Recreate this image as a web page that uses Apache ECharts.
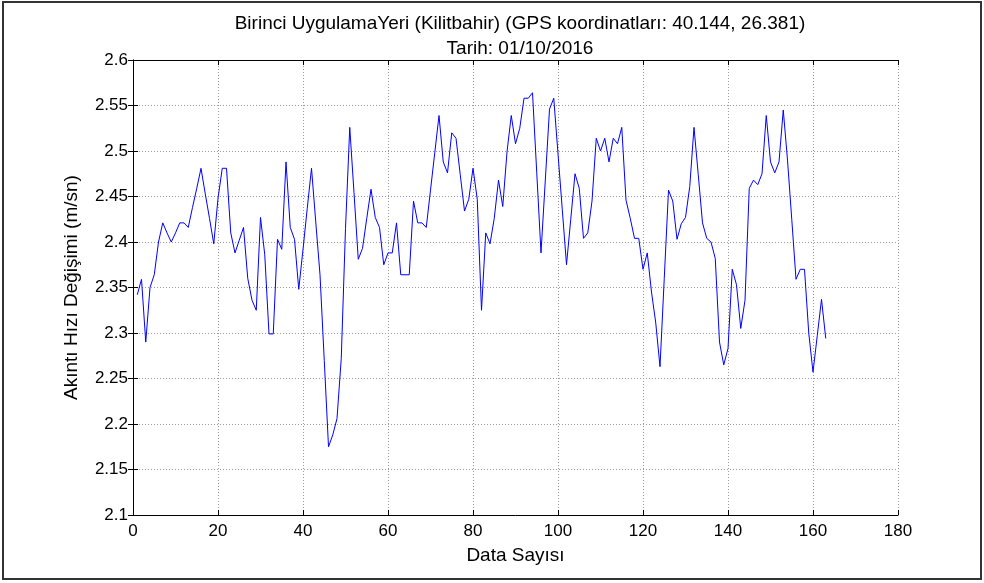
<!DOCTYPE html>
<html>
<head>
<meta charset="utf-8">
<script src="https://cdn.jsdelivr.net/npm/echarts@6/dist/echarts.min.js"></script>
<style>
  html, body { margin: 0; padding: 0; background: #fff; }
  #chart { width: 984px; height: 583px; }
</style>
</head>
<body>
<div id="chart"></div>
<script>
// values, x = 1..163
var xStart = 1;
var velocity = [
  2.342, 2.359, 2.29, 2.35, 2.364, 2.40, 2.421, 2.41, 2.40, 2.41,
  2.421, 2.421, 2.416, 2.438, 2.459, 2.481, 2.453, 2.426, 2.398, 2.448,
  2.481, 2.481, 2.41, 2.388, 2.402, 2.416, 2.36, 2.336, 2.325, 2.427,
  2.386, 2.299, 2.299, 2.403, 2.392, 2.488, 2.416, 2.403, 2.348, 2.392,
  2.437, 2.481, 2.422, 2.364, 2.27, 2.175, 2.188, 2.206, 2.272, 2.415,
  2.526, 2.454, 2.381, 2.393, 2.426, 2.458, 2.427, 2.416, 2.375, 2.388,
  2.388, 2.421, 2.364, 2.364, 2.364, 2.445, 2.421, 2.421, 2.416, 2.457,
  2.498, 2.539, 2.488, 2.476, 2.52, 2.514, 2.474, 2.434, 2.447, 2.481,
  2.447, 2.325, 2.41, 2.398, 2.426, 2.468, 2.439, 2.499, 2.539, 2.508,
  2.525, 2.558, 2.558, 2.564, 2.476, 2.388, 2.467, 2.546, 2.558, 2.497,
  2.436, 2.375, 2.425, 2.475, 2.459, 2.404, 2.41, 2.445, 2.514, 2.50,
  2.514, 2.488, 2.514, 2.508, 2.526, 2.446, 2.426, 2.404, 2.404, 2.37,
  2.388, 2.345, 2.311, 2.263, 2.36, 2.457, 2.445, 2.403, 2.42, 2.427,
  2.461, 2.526, 2.474, 2.421, 2.404, 2.40, 2.382, 2.29, 2.265, 2.283,
  2.37, 2.353, 2.305, 2.336, 2.459, 2.468, 2.463, 2.475, 2.539, 2.488,
  2.476, 2.488, 2.545, 2.49, 2.425, 2.359, 2.37, 2.37, 2.30, 2.257,
  2.297, 2.337, 2.294
];
var xTicks = [0, 180, 20];       // min, max, step
var yTicks = [2.1, 2.6, 0.05];

var titleText = 'Birinci UygulamaYeri (Kilitbahir) (GPS koordinatları: 40.144, 26.381)\nTarih: 01/10/2016';
var xName = 'Data Sayısı';
var yName = 'Akıntı Hızı Değişimi (m/sn)';

var points = velocity.map(function (v, i) { return [xStart + i, v]; });

var font = 'Liberation Sans';
var gridLine = { show: true, lineStyle: { color: '#9a9a9a', type: [1, 2], width: 1 } };
var plainAxis = { lineStyle: { color: '#000', width: 1 } };

var myChart = echarts.init(document.getElementById('chart'));
myChart.setOption({
  animation: false,
  backgroundColor: '#fff',
  textStyle: { fontFamily: font },
  graphic: [{
    type: 'rect',
    shape: { x: 3, y: 2, width: 978, height: 577 },
    style: { fill: 'none', stroke: '#333', lineWidth: 2 },
    silent: true
  }],
  title: {
    text: titleText,
    left: 515,
    top: 6,
    textAlign: 'center',
    textStyle: { fontFamily: font, fontSize: 19, fontWeight: 'normal', color: '#000', lineHeight: 25 }
  },
  grid: { left: 133, right: 86, top: 60, bottom: 68 },
  xAxis: [{
    type: 'value',
    min: xTicks[0], max: xTicks[1], interval: xTicks[2],
    name: xName, nameLocation: 'middle', nameGap: 31,
    nameTextStyle: { fontFamily: font, fontSize: 19, color: '#000' },
    axisLine: plainAxis,
    axisTick: { inside: true, length: 5, lineStyle: { color: '#000' } },
    axisLabel: { fontFamily: font, fontSize: 17, color: '#000', margin: 8 },
    splitLine: gridLine
  }, {
    type: 'value', position: 'top',
    min: xTicks[0], max: xTicks[1], interval: xTicks[2],
    axisLine: plainAxis,
    axisTick: { inside: true, length: 5, lineStyle: { color: '#000' } },
    axisLabel: { show: false },
    splitLine: { show: false }
  }],
  yAxis: [{
    type: 'value',
    min: yTicks[0], max: yTicks[1], interval: yTicks[2],
    name: yName, nameLocation: 'middle', nameGap: 52,
    nameTextStyle: { fontFamily: font, fontSize: 19, color: '#000' },
    axisLine: { show: true, lineStyle: { color: '#000', width: 1 } },
    axisTick: { show: true, inside: true, length: 5, lineStyle: { color: '#000' } },
    axisLabel: {
      fontFamily: font, fontSize: 17, color: '#000', margin: 5,
      formatter: function (v) { return String(+v.toFixed(2)); }
    },
    splitLine: gridLine
  }, {
    type: 'value', position: 'right',
    min: yTicks[0], max: yTicks[1], interval: yTicks[2],
    axisLine: { show: true, lineStyle: { color: '#000', width: 1 } },
    axisTick: { show: true, inside: true, length: 5, lineStyle: { color: '#000' } },
    axisLabel: { show: false },
    splitLine: { show: false }
  }],
  series: [{
    type: 'line',
    data: points,
    showSymbol: false,
    lineStyle: { color: '#0000ff', width: 1 },
    itemStyle: { color: '#0000ff' }
  }]
});
</script>
</body>
</html>
